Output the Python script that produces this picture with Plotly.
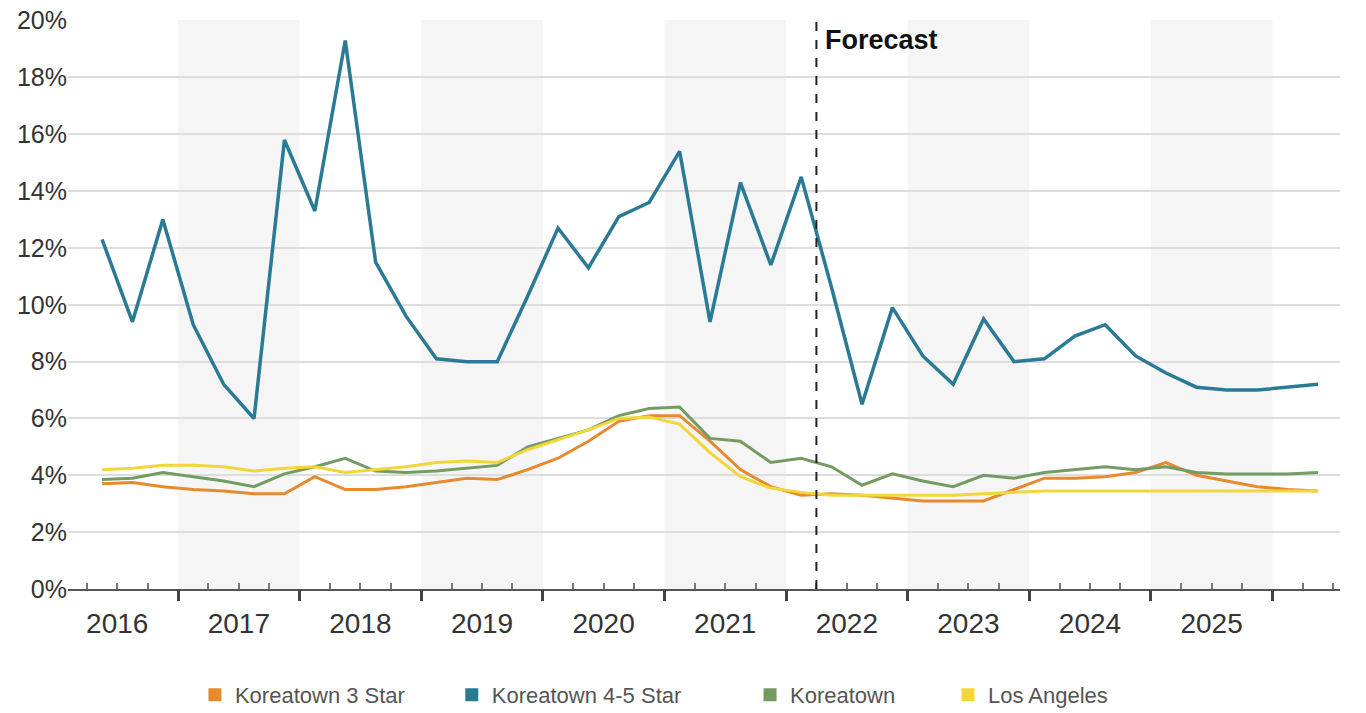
import plotly.graph_objects as go

# ---------------- data ----------------
quarters = [f"{2016 + (i + 1) // 4}-Q{(i + 1) % 4 + 1}" for i in range(41)]  # 2016-Q2 .. 2026-Q2
years = list(range(2016, 2026))
year_labels = [str(y) for y in years]
forecast_start = "2022-Q2"

star3 = [3.7, 3.75, 3.6, 3.5, 3.45, 3.35, 3.35, 3.95, 3.5, 3.5,
         3.6, 3.75, 3.9, 3.85, 4.2, 4.6, 5.2, 5.9, 6.1, 6.1,
         5.2, 4.2, 3.6, 3.3, 3.35, 3.3, 3.2, 3.1, 3.1, 3.1,
         3.5, 3.9, 3.9, 3.95, 4.1, 4.45, 4.0, 3.8, 3.6, 3.5, 3.45]
star45 = [12.3, 9.4, 13.0, 9.3, 7.2, 6.0, 15.8, 13.3, 19.3, 11.5,
          9.6, 8.1, 8.0, 8.0, 10.3, 12.7, 11.3, 13.1, 13.6, 15.4,
          9.4, 14.3, 11.4, 14.5, 10.6, 6.5, 9.9, 8.2, 7.2, 9.5,
          8.0, 8.1, 8.9, 9.3, 8.2, 7.6, 7.1, 7.0, 7.0, 7.1, 7.2]
koreatown = [3.85, 3.9, 4.1, 3.95, 3.8, 3.6, 4.05, 4.3, 4.6, 4.15,
             4.1, 4.15, 4.25, 4.35, 5.0, 5.3, 5.6, 6.1, 6.35, 6.4,
             5.3, 5.2, 4.45, 4.6, 4.3, 3.65, 4.05, 3.8, 3.6, 4.0,
             3.9, 4.1, 4.2, 4.3, 4.2, 4.3, 4.1, 4.05, 4.05, 4.05, 4.1]
los_angeles = [4.2, 4.25, 4.35, 4.35, 4.3, 4.15, 4.25, 4.3, 4.1, 4.2,
               4.3, 4.45, 4.5, 4.45, 4.9, 5.25, 5.6, 6.0, 6.05, 5.8,
               4.8, 3.95, 3.55, 3.4, 3.3, 3.3, 3.3, 3.3, 3.3, 3.35,
               3.4, 3.45, 3.45, 3.45, 3.45, 3.45, 3.45, 3.45, 3.45, 3.45, 3.45]

series_names = ["Koreatown 3 Star", "Koreatown 4-5 Star", "Koreatown", "Los Angeles"]
series_values = [star3, star45, koreatown, los_angeles]
colors = ["#E58A2E", "#2A7A95", "#739B62", "#F2D63A"]
line_widths = [3, 3.5, 3, 3]
legend_x = [0.0998, 0.3017, 0.5362, 0.6918]


# ---------------- helpers ----------------
def q_mid(label):
    y, q = label.split("-Q")
    return int(y) + (int(q) - 0.5) / 4


def q_start(label):
    y, q = label.split("-Q")
    return int(y) + (int(q) - 1) / 4


x = [q_mid(q) for q in quarters]
x_range = [2016.095, 2026.556]
year_bounds = [y for y in range(2016, 2028) if x_range[0] <= y <= x_range[1]]
quarter_bounds = [y + k / 4 for y in range(2016, 2027) for k in (1, 2, 3)
                  if x_range[0] <= y + k / 4 <= x_range[1]]

FONT = "Liberation Sans, Arial, Helvetica, sans-serif"

fig = go.Figure()

for name, vals, col, lw in zip(series_names, series_values, colors, line_widths):
    fig.add_trace(go.Scatter(x=x, y=vals, mode="lines", name=name,
                             line=dict(color=col, width=lw), showlegend=False,
                             hoverinfo="x+y+name"))

# legend entries with square swatches, one legend box each
legend_layout = {}
for i, (name, col, lx) in enumerate(zip(series_names, colors, legend_x)):
    key = "legend" if i == 0 else f"legend{i + 1}"
    fig.add_trace(go.Scatter(x=[None], y=[None], mode="markers", name=name,
                             marker=dict(symbol="square", size=13, color=col),
                             xaxis="x2", showlegend=True, legend=key))
    legend_layout[key] = dict(orientation="h", x=lx, xanchor="left", y=-0.186,
                              yanchor="middle",
                              font=dict(family=FONT, size=22, color="#555555"),
                              bgcolor="rgba(0,0,0,0)")

shapes = []
# alternating year bands
for y in years:
    if (y - 2016) % 2 == 1:
        shapes.append(dict(type="rect", xref="x", yref="paper", x0=y, x1=y + 1,
                           y0=0, y1=1, fillcolor="#f5f5f5", line=dict(width=0),
                           layer="below"))
# forecast divider
fx = q_start(forecast_start)
shapes.append(dict(type="line", xref="x", yref="paper", x0=fx, x1=fx, y0=0, y1=1,
                   line=dict(color="#222222", width=2, dash="dash")))

fig.update_layout(
    width=1366, height=713,
    margin=dict(l=68, r=26, t=20, b=124, autoexpand=False),
    paper_bgcolor="white", plot_bgcolor="white",
    font=dict(family=FONT, color="#333333"),
    shapes=shapes,
    annotations=[dict(text="<b>Forecast</b>", x=fx, xref="x", xanchor="left", xshift=7,
                      y=0.965, yref="paper", yanchor="middle", showarrow=False,
                      font=dict(family=FONT, size=27, color="#111111"))],
    xaxis=dict(range=x_range, tickmode="array", automargin=False,
               tickvals=[y + 0.5 for y in years], ticktext=year_labels,
               ticks="", tickfont=dict(size=28, color="#333333"),
               ticklabelstandoff=8,
               showgrid=False, zeroline=False,
               showline=True, linecolor="#555555", linewidth=2,
               minor=dict(tickmode="array", tickvals=quarter_bounds, ticks="inside",
                          ticklen=6, tickwidth=1.5, tickcolor="#777777", showgrid=False)),
    xaxis2=dict(overlaying="x", matches="x", anchor="y", side="bottom", automargin=False,
                tickmode="array", tickvals=year_bounds, ticktext=["" for _ in year_bounds],
                ticks="outside", ticklen=11, tickwidth=2.5, tickcolor="#444444",
                showgrid=False, zeroline=False, showline=False),
    yaxis=dict(range=[0, 20.02], tickmode="array", tickvals=list(range(0, 21, 2)),
               ticktext=[f"{v}%" for v in range(0, 21, 2)], automargin=False,
               tickfont=dict(size=25, color="#333333"), ticks="",
               gridcolor="#dddddd", gridwidth=1.5, zeroline=False, showline=False),
    showlegend=True,
    **legend_layout,
)

fig.write_html("out.html",
               config={"displayModeBar": False},
               post_script="document.body.style.margin='0';document.body.style.padding='0';")
